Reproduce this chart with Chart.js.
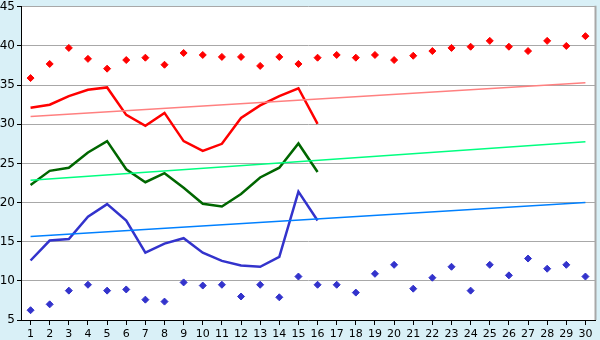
<!DOCTYPE html>
<html>
<head>
<meta charset="utf-8">
<script src="https://cdn.jsdelivr.net/npm/chart.js@4"></script>
<style>
  html, body { margin: 0; padding: 0; background: #d9f0f7; }
  #wrap { width: 600px; height: 340px; }
</style>
</head>
<body>
<div id="wrap"><canvas id="chart" width="600" height="340"></canvas></div>
<script>
const days = ["1","2","3","4","5","6","7","8","9","10","11","12","13","14","15","16","17","18","19","20","21","22","23","24","25","26","27","28","29","30"];

// scattered markers
const highPoints = [35.9, 37.7, 39.75, 38.35, 37.1, 38.2, 38.5, 37.6, 39.1, 38.85, 38.6, 38.6, 37.45, 38.6, 37.7, 38.5, 38.85, 38.5, 38.85, 38.2, 38.75, 39.35, 39.75, 39.9, 40.65, 39.9, 39.35, 40.65, 40.0, 41.25];
const lowPoints = [6.25, 7.0, 8.75, 9.5, 8.75, 8.9, 7.6, 7.35, 9.8, 9.4, 9.5, 8.0, 9.5, 7.9, 10.55, 9.5, 9.5, 8.5, 10.9, 12.05, 9.0, 10.4, 11.8, 8.75, 12.05, 10.7, 12.85, 11.55, 12.05, 10.55];

// lines, days 1-16
const redLine = [32.1, 32.5, 33.6, 34.4, 34.7, 31.2, 29.8, 31.45, 27.85, 26.6, 27.5, 30.8, 32.4, 33.6, 34.6, 30.05];
const greenLine = [22.25, 24.05, 24.45, 26.4, 27.85, 24.25, 22.6, 23.75, 21.9, 19.85, 19.5, 21.1, 23.2, 24.45, 27.55, 23.9];
const blueLine = [12.6, 15.15, 15.35, 18.2, 19.8, 17.7, 13.6, 14.75, 15.45, 13.6, 12.55, 11.95, 11.8, 13.05, 21.4, 17.7];

// trend lines, start and end values
const redTrend = [31.0, 35.3];
const greenTrend = [22.85, 27.75];
const blueTrend = [15.65, 20.0];

const yTicks = [5, 10, 15, 20, 25, 30, 35, 40, 45];

function trend(ends) {
  return [{ x: days[0], y: ends[0] }, { x: days[days.length - 1], y: ends[1] }];
}

// white plot area and right border
const plotBg = {
  id: "plotBg",
  beforeDraw(chart) {
    const a = chart.chartArea;
    const ctx = chart.ctx;
    ctx.save();
    ctx.fillStyle = "#ffffff";
    ctx.fillRect(a.left, a.top, a.right - a.left, a.bottom - a.top);
    ctx.restore();
  },
  afterDatasetsDraw(chart) {
    const a = chart.chartArea;
    const ctx = chart.ctx;
    ctx.save();
    ctx.strokeStyle = "#a8a8a8";
    ctx.lineWidth = 2;
    ctx.beginPath();
    ctx.moveTo(a.right + 0.5, a.top - 1);
    ctx.lineTo(a.right + 0.5, a.bottom);
    ctx.stroke();
    ctx.restore();
  }
};

const ctx = document.getElementById("chart").getContext("2d");
const chart = new Chart(ctx, {
  type: "line",
  data: {
    labels: days,
    datasets: [
      { data: trend(redTrend), borderColor: "#ff8080", borderWidth: 1.5, pointRadius: 0 },
      { data: trend(greenTrend), borderColor: "#00ff80", borderWidth: 1.5, pointRadius: 0 },
      { data: trend(blueTrend), borderColor: "#0080ff", borderWidth: 1.5, pointRadius: 0 },
      { data: redLine, borderColor: "#ff0000", borderWidth: 2.5, pointRadius: 0 },
      { data: greenLine, borderColor: "#006600", borderWidth: 2.5, pointRadius: 0 },
      { data: blueLine, borderColor: "#3333cc", borderWidth: 2.5, pointRadius: 0 },
      { data: highPoints, showLine: false, pointStyle: "rectRot", pointRadius: 3.5, backgroundColor: "#ff0000", borderColor: "#ff0000", borderWidth: 1 },
      { data: lowPoints, showLine: false, pointStyle: "rectRot", pointRadius: 3.5, backgroundColor: "#3333cc", borderColor: "#3333cc", borderWidth: 1 }
    ]
  },
  options: {
    responsive: false,
    animation: false,
    layout: { padding: { top: 5, right: 5, left: 0, bottom: 0 } },
    plugins: { legend: { display: false }, tooltip: { enabled: false } },
    elements: { line: { tension: 0 } },
    scales: {
      x: {
        type: "category",
        offset: true,
        grid: { display: true, drawOnChartArea: false, tickLength: 5, tickColor: "#000000", offset: false },
        border: { color: "#000000", width: 1 },
        ticks: { color: "#000000", font: { family: "DejaVu Sans", size: 11 }, padding: 3, maxRotation: 0, autoSkip: false },
        afterFit(scale) { scale.height = 20; }
      },
      y: {
        min: 5,
        max: 45,
        afterBuildTicks(scale) { scale.ticks = yTicks.map((v) => ({ value: v })); },
        grid: { color: "#a8a8a8", lineWidth: 1, tickLength: 4, tickColor: "#000000" },
        border: { color: "#000000", width: 1 },
        ticks: { color: "#000000", font: { family: "DejaVu Sans", size: 12, lineHeight: 0.8 }, padding: 2 },
        afterFit(scale) { scale.width = 21; }
      }
    }
  },
  plugins: [plotBg]
});
</script>
</body>
</html>
